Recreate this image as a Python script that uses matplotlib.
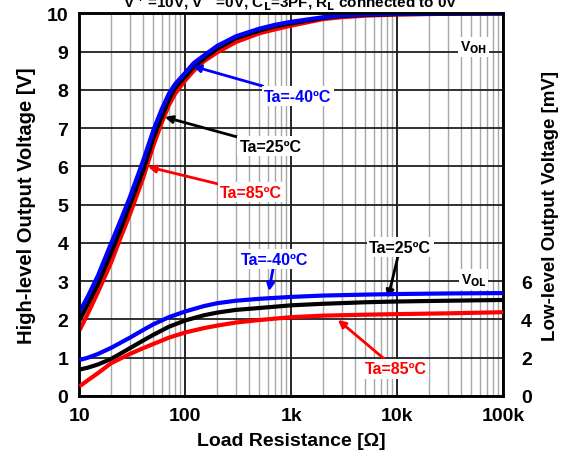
import matplotlib
matplotlib.use("Agg")
import matplotlib.pyplot as plt
from matplotlib.ticker import FixedLocator, NullFormatter, LogLocator

plt.rcParams['font.family'] = ['Liberation Sans', 'DejaVu Sans']
plt.rcParams['font.weight'] = 'bold'
plt.rcParams['mathtext.default'] = 'bf'

# ---- data ----
r_oh = [10, 12, 15, 20, 25, 30, 40, 50, 60, 70, 80, 100, 120, 150, 200, 300,
        500, 700, 1000, 2000, 3000, 5000, 10000, 30000, 100000]
voh_m40 = [2.19, 2.6, 3.15, 4.0, 4.65, 5.2, 6.15, 6.95, 7.5, 7.9, 8.15, 8.45, 8.7,
           8.9, 9.15, 9.4, 9.6, 9.7, 9.78, 9.9, 9.95, 9.97, 9.99, 10.0, 10.0]
voh_25 = [1.97, 2.4, 2.93, 3.75, 4.42, 5.0, 5.9, 6.75, 7.3, 7.75, 8.05, 8.35, 8.6,
          8.82, 9.08, 9.35, 9.55, 9.66, 9.74, 9.88, 9.93, 9.96, 9.98, 9.99, 10.0]
voh_85 = [1.71, 2.15, 2.72, 3.5, 4.2, 4.75, 5.7, 6.55, 7.15, 7.6, 7.9, 8.25, 8.5,
          8.75, 8.98, 9.25, 9.48, 9.58, 9.68, 9.85, 9.9, 9.94, 9.97, 9.99, 10.0]

r_ol = [10, 12, 15, 20, 30, 40, 50, 70, 100, 150, 200, 300, 500, 1000, 2000,
        5000, 10000, 30000, 100000]
vol_m40 = [1.88, 2.0, 2.2, 2.52, 3.05, 3.45, 3.75, 4.12, 4.42, 4.7, 4.85, 4.98,
           5.08, 5.18, 5.25, 5.3, 5.33, 5.36, 5.38]
vol_25 = [1.38, 1.48, 1.65, 1.94, 2.5, 2.9, 3.2, 3.62, 3.95, 4.22, 4.36, 4.5,
          4.6, 4.74, 4.82, 4.9, 4.94, 4.98, 5.02]
vol_85 = [0.5, 0.82, 1.2, 1.72, 2.2, 2.5, 2.72, 3.05, 3.32, 3.55, 3.68, 3.84,
          3.97, 4.12, 4.2, 4.25, 4.28, 4.32, 4.38]

x_ticks = [10, 100, 1000, 10000, 100000]
x_labels = ['10', '100', '1k', '10k', '100k']
yl_ticks = list(range(0, 11))
yr_ticks = [0, 2, 4, 6]

BLUE = '#0000ff'
RED = '#ff0000'
BLACK = '#000000'

fig = plt.figure(figsize=(5.65, 4.64), dpi=100)
ax = fig.add_axes([0.1405, 0.1444, 0.7498, 0.8246])
ax.set_xscale('log')
ax.set_xlim(10, 100000)
ax.set_ylim(0, 10)

# grid
ax.xaxis.set_major_locator(FixedLocator(x_ticks))
ax.xaxis.set_minor_locator(LogLocator(base=10, subs=range(2, 10)))
ax.xaxis.set_minor_formatter(NullFormatter())
ax.set_xticklabels(x_labels)
ax.set_yticks(yl_ticks)
ax.grid(True, which='minor', axis='x', color='#a8a8a8', lw=1.0)
ax.grid(True, which='major', axis='x', color='#000000', lw=1.2)
ax.grid(True, which='major', axis='y', color='#202020', lw=1.3)
ax.set_axisbelow(True)
ax.tick_params(which='both', length=0, labelsize=14, pad=8)
for s in ax.spines.values():
    s.set_linewidth(1.8)

lk = dict(lw=3, zorder=3, solid_joinstyle='round', solid_capstyle='butt')
# VOH
ax.plot(r_oh, voh_85, color=RED, **lk)
ax.plot(r_oh, voh_25, color=BLACK, **lk)
ax.plot(r_oh, voh_m40, color=BLUE, **lk)

ax2 = ax.twinx()
ax2.set_ylim(0, 20)
ax2.set_yticks(yr_ticks)
ax2.tick_params(length=0, labelsize=14, pad=13)
ax2.plot(r_ol, vol_m40, color=BLUE, **lk)
ax2.plot(r_ol, vol_25, color=BLACK, **lk)
ax2.plot(r_ol, vol_85, color=RED, **lk)
for s in ax2.spines.values():
    s.set_linewidth(1.8)

ax.set_ylabel('High-level Output Voltage [V]', fontsize=14.5, fontweight='bold', labelpad=8)
ax2.set_ylabel('Low-level Output Voltage [mV]', fontsize=13.5, fontweight='bold', labelpad=7)
ax.set_xlabel('Load Resistance [Ω]', fontsize=14, fontweight='bold', labelpad=6)

fig.text(0.515, 0.995, 'V$^+$=10V, V$^-$=0V, C$_L$=3PF, R$_L$ connected to 0V',
         ha='center', va='center', fontsize=11, fontweight='bold')

box = dict(boxstyle='square,pad=0.15', fc='white', ec='none')

def ann(a, text, tip, txt, color):
    a.annotate(text, xy=tip, xytext=txt, color=color, fontsize=11.5, fontweight='bold',
               ha='center', va='center', bbox=box, zorder=6,
               arrowprops=dict(arrowstyle='-|>', color=color, lw=2,
                               mutation_scale=11, shrinkA=0, shrinkB=0))

ann(ax, 'Ta=-40ºC', (118, 8.62), (1150, 7.84), BLUE)
ann(ax, 'Ta=25ºC', (64, 7.29), (640, 6.53), BLACK)
ann(ax, 'Ta=85ºC', (44.5, 5.99), (420, 5.33), RED)

ann(ax, 'Ta=-40ºC', (616, 2.74), (700, 3.58), BLUE)
ann(ax, 'Ta=25ºC', (8180, 2.56), (10700, 3.89), BLACK)
ann(ax, 'Ta=85ºC', (2760, 1.99), (9770, 0.71), RED)

ax.text(52500, 9.12, 'V$_{OH}$', ha='center', va='center', fontsize=10,
        fontweight='bold', bbox=box, zorder=6)
ax.text(52500, 3.05, 'V$_{OL}$', ha='center', va='center', fontsize=10,
        fontweight='bold', bbox=box, zorder=6)

fig.savefig('out.png', dpi=100)
